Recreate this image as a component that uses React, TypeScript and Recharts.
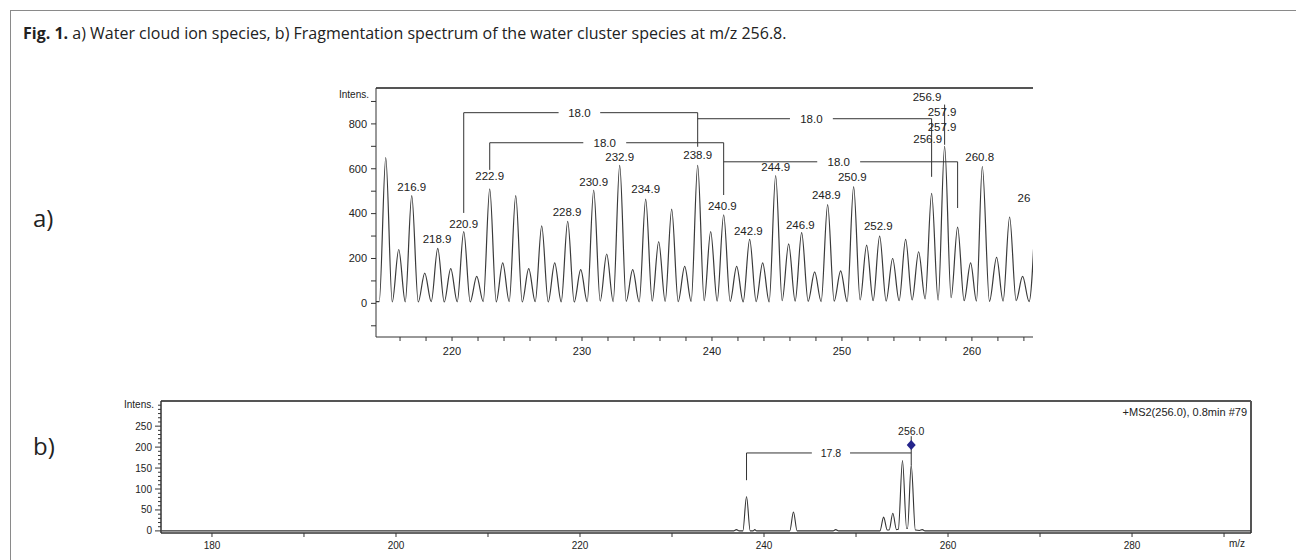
import React from 'react';
import { ComposedChart, Line, Scatter, XAxis, YAxis, ReferenceLine, ReferenceDot } from 'recharts';

// a) water cloud ion trace: local maxima [m/z, intensity]
const PEAKS_A: [number, number][] = [
  [214.9, 650], [215.9, 240], [216.9, 480], [217.9, 135], [218.9, 245], [219.9, 155],
  [220.9, 320], [221.9, 120], [222.9, 510], [223.9, 180], [224.9, 480], [225.9, 155],
  [226.9, 345], [227.9, 180], [228.9, 365], [229.9, 150], [230.9, 505], [231.9, 220],
  [232.9, 615], [233.9, 150], [234.9, 465], [235.9, 275], [236.9, 420], [237.9, 165],
  [238.9, 615], [239.9, 320], [240.9, 395], [241.9, 165], [242.9, 285], [243.9, 180],
  [244.9, 570], [245.9, 265], [246.9, 315], [247.9, 140], [248.9, 440], [249.9, 145],
  [250.9, 520], [251.9, 260], [252.9, 300], [253.9, 200], [254.9, 285], [255.9, 230],
  [256.9, 490], [257.9, 700], [258.9, 340], [259.9, 180], [260.8, 610], [261.9, 205],
  [262.9, 385], [263.9, 120], [264.9, 430],
];

// local minima between the peaks
const VALLEYS_A: [number, number][] = [
  [214.1, 8], [214.4, 8], [215.4, 6], [216.4, 7], [217.4, 6], [218.4, 8], [219.4, 6],
  [220.4, 7], [221.4, 6], [222.4, 8], [223.4, 7], [224.4, 8], [225.4, 6], [226.4, 8],
  [227.4, 6], [228.4, 7], [229.4, 6], [230.4, 8], [231.4, 10], [232.4, 8], [233.4, 9],
  [234.4, 7], [235.4, 10], [236.4, 9], [237.4, 8], [238.4, 9], [239.4, 12], [240.4, 10],
  [241.4, 9], [242.4, 7], [243.4, 8], [244.4, 7], [245.4, 12], [246.4, 10], [247.4, 9],
  [248.4, 8], [249.4, 10], [250.4, 8], [251.4, 15], [252.4, 12], [253.4, 10], [254.4, 12],
  [255.4, 15], [256.4, 20], [257.4, 14], [258.4, 25], [259.4, 12], [260.35, 10],
  [261.35, 9], [262.4, 10], [263.4, 12], [264.4, 8],
];

// peak annotations (m/z, intensity where the text sits)
const LABELS_A = [
  { text: '216.9', mz: 216.9, at: 519 },
  { text: '218.9', mz: 218.85, at: 286 },
  { text: '220.9', mz: 220.9, at: 353 },
  { text: '222.9', mz: 222.9, at: 568 },
  { text: '228.9', mz: 228.85, at: 407 },
  { text: '230.9', mz: 230.9, at: 541 },
  { text: '232.9', mz: 232.9, at: 653 },
  { text: '234.9', mz: 234.9, at: 510 },
  { text: '238.9', mz: 238.9, at: 662 },
  { text: '240.9', mz: 240.8, at: 434 },
  { text: '242.9', mz: 242.8, at: 322 },
  { text: '244.9', mz: 244.9, at: 608 },
  { text: '246.9', mz: 246.8, at: 349 },
  { text: '248.9', mz: 248.8, at: 483 },
  { text: '250.9', mz: 250.8, at: 564 },
  { text: '252.9', mz: 252.8, at: 345 },
  { text: '256.9', mz: 256.55, at: 922 },
  { text: '257.9', mz: 257.7, at: 855 },
  { text: '257.9', mz: 257.7, at: 787 },
  { text: '256.9', mz: 256.6, at: 734 },
  { text: '260.8', mz: 260.6, at: 653 },
  { text: '26', mz: 264.0, at: 470 },
];

const BRACKETS_A = [
  { text: '18.0', from: 220.9, to: 238.9, level: 850, fromEnd: 403, toEnd: 698, gap: [228.2, 231.4] },
  { text: '18.0', from: 222.9, to: 240.9, level: 716, fromEnd: 595, toEnd: 483, gap: [230.1, 233.4] },
  { text: '18.0', from: 238.9, to: 256.9, level: 823, fromEnd: 823, toEnd: 564, gap: [246.0, 249.3] },
  { text: '18.0', from: 240.9, to: 258.9, level: 631, fromEnd: 631, toEnd: 425, gap: [248.1, 251.4] },
];
const MARKERS_A = [{ mz: 257.9, top: 886, bottom: 707 }];

const X_TICKS_A = [216, 218, 220, 222, 224, 226, 228, 230, 232, 234, 236, 238, 240, 242, 244, 246, 248, 250, 252, 254, 256, 258, 260, 262, 264];
const X_LABELS_A = [220, 230, 240, 250, 260];
const Y_TICKS_A = [-100, 0, 100, 200, 300, 400, 500, 600, 700, 800, 900];
const Y_LABELS_A = [0, 200, 400, 600, 800];

// b) MS2 fragmentation trace [m/z, intensity]
const TRACE_B: [number, number][] = [
  [174.5, 0], [236.7, 0], [237.0, 3], [237.3, 0], [237.7, 0], [238.1, 82], [238.5, 0],
  [238.8, 0], [239.0, 3], [239.2, 0], [242.8, 0], [243.2, 45], [243.6, 0], [247.5, 0],
  [247.8, 3], [248.1, 0], [252.6, 0], [253.0, 33], [253.4, 2], [253.6, 2], [254.0, 42],
  [254.4, 3], [254.6, 4], [255.05, 168], [255.5, 6], [255.6, 6], [256.0, 157], [256.45, 2],
  [256.9, 1], [257.2, 3], [257.5, 0], [292.9, 0],
];
const PRECURSOR_B = { mz: 256.0, marker: 205, top: 226, bottom: 157, labelAt: 238, text: '256.0' };
const BRACKETS_B = [
  { text: '17.8', from: 238.1, to: 256.0, level: 186, fromEnd: 121, toEnd: 186, gap: [245.2, 249.35] },
];

const X_TICKS_B = [180, 190, 200, 210, 220, 230, 240, 250, 260, 270, 280, 290];
const X_LABELS_B = [180, 200, 220, 240, 260, 280];
const Y_TICKS_B = [0, 10, 20, 30, 40, 50, 60, 70, 80, 90, 100, 110, 120, 130, 140, 150, 160, 170, 180, 190, 200, 210, 220, 230, 240, 250, 260, 270, 280, 290, 300];
const Y_LABELS_B = [0, 50, 100, 150, 200, 250];

const FONT = '"Liberation Sans", Arial, sans-serif';
const INK = '#222';

const toRows = (pts: [number, number][]) =>
  [...pts].sort((a, b) => a[0] - b[0]).map(([mz, i]) => ({ mz, i }));

const TRACE_A_ROWS = toRows([...PEAKS_A, ...VALLEYS_A]);
const TRACE_B_ROWS = toRows(TRACE_B);

const bracketSegments = (b: any) => [
  [{ x: b.from, y: b.level }, { x: b.from, y: b.fromEnd }],
  [{ x: b.to, y: b.level }, { x: b.to, y: b.toEnd }],
  [{ x: b.from, y: b.level }, { x: b.gap[0], y: b.level }],
  [{ x: b.gap[1], y: b.level }, { x: b.to, y: b.level }],
];
const bracketLabels = (list: any[]) =>
  list.map((b) => ({ text: b.text, mz: (b.gap[0] + b.gap[1]) / 2, at: b.level }));

const textShape = (size: number) => (p: any) => (
  <text x={p.cx} y={p.cy} dy="0.35em" textAnchor="middle" fontSize={size} fontFamily={FONT} fill={INK}>
    {p.payload.text}
  </text>
);

const yTick = (labels: number[], major: number, minor: number, size: number) => (p: any) => {
  const v = p.payload.value;
  const lab = labels.includes(v);
  return (
    <g>
      <line x1={p.x - (lab ? major : minor)} x2={p.x} y1={p.y} y2={p.y} stroke="#333" />
      {lab && (
        <text x={p.x - 9} y={p.y} dy="0.35em" textAnchor="end" fontSize={size} fontFamily={FONT} fill={INK}>
          {v}
        </text>
      )}
    </g>
  );
};

const xTick = (labels: number[], len: number, off: number, size: number) => (p: any) => {
  const v = p.payload.value;
  const lab = labels.includes(v);
  return (
    <g>
      <line x1={p.x} x2={p.x} y1={p.y} y2={p.y + len} stroke="#333" />
      {lab && (
        <text x={p.x} y={p.y + off} dy="0.35em" textAnchor="middle" fontSize={size} fontFamily={FONT} fill={INK}>
          {v}
        </text>
      )}
    </g>
  );
};

const abs = (left: number, top: number, extra: React.CSSProperties = {}): React.CSSProperties => ({
  position: 'absolute', left, top, whiteSpace: 'nowrap', ...extra,
});

export default function App() {
  const labelsA = [...LABELS_A, ...bracketLabels(BRACKETS_A)];
  const labelsB = [{ text: PRECURSOR_B.text, mz: PRECURSOR_B.mz, at: PRECURSOR_B.labelAt }, ...bracketLabels(BRACKETS_B)];

  return (
    <div style={{ position: 'absolute', left: 0, top: 0, width: 1296, height: 560, background: '#fff', overflow: 'hidden' }}>
      <div style={abs(10, 10, { width: 1300, height: 560, borderTop: '1.5px solid #8a8a8a', borderLeft: '1.5px solid #8a8a8a' })} />
      <div style={abs(23, 22, { fontFamily: '"Open Sans", sans-serif', fontSize: 16, color: INK, lineHeight: '22px' })}>
        <b>Fig. 1.</b> a) Water cloud ion species, b) Fragmentation spectrum of the water cluster species at m/z 256.8.
      </div>
      <div style={abs(33, 202, { fontFamily: '"Open Sans", sans-serif', fontSize: 24, color: INK, lineHeight: '32px' })}>a)</div>
      <div style={abs(33, 430, { fontFamily: '"Open Sans", sans-serif', fontSize: 24, color: INK, lineHeight: '32px' })}>b)</div>

      <div style={abs(0, 0)}>
        <ComposedChart width={1296} height={380} margin={{ top: 88, right: 263, bottom: 13, left: 316 }}>
          <XAxis
            type="number" dataKey="mz" domain={[214.15, 264.7]} allowDataOverflow height={30}
            ticks={X_TICKS_A} interval={0} tickSize={0} tickMargin={0} tickLine={false}
            axisLine={{ stroke: '#333' }} tick={xTick(X_LABELS_A, 4, 14, 11)}
          />
          <YAxis
            type="number" domain={[-150, 960]} allowDataOverflow width={60}
            ticks={Y_TICKS_A} interval={0} tickSize={0} tickMargin={0} tickLine={false}
            axisLine={{ stroke: '#333' }} tick={yTick(Y_LABELS_A, 5, 5, 11)}
          />
          <ReferenceLine y={960} stroke="#555" strokeWidth={2} ifOverflow="visible" />
          <Line data={TRACE_A_ROWS} dataKey="i" type="monotone" stroke="#3a3a3a" strokeWidth={1.2} dot={false} isAnimationActive={false} />
          {BRACKETS_A.flatMap((b, bi) =>
            bracketSegments(b).map((s, si) => (
              <ReferenceLine key={`a${bi}-${si}`} segment={s} stroke="#333" strokeWidth={1} />
            ))
          )}
          {MARKERS_A.map((m, i) => (
            <ReferenceLine key={`m${i}`} segment={[{ x: m.mz, y: m.top }, { x: m.mz, y: m.bottom }]} stroke="#333" strokeWidth={1} />
          ))}
          <Scatter data={labelsA} dataKey="at" shape={textShape(11.5)} isAnimationActive={false} />
        </ComposedChart>
      </div>

      <div style={abs(0, 380)}>
        <ComposedChart width={1296} height={180} margin={{ top: 21, right: 45, bottom: 7, left: 111 }}>
          <XAxis
            type="number" dataKey="mz" domain={[174.46, 292.93]} allowDataOverflow height={20}
            ticks={X_TICKS_B} interval={0} tickSize={0} tickMargin={0} tickLine={false}
            axisLine={{ stroke: '#333', strokeWidth: 1.5 }} tick={xTick(X_LABELS_B, 4, 12, 10)}
          />
          <YAxis
            type="number" domain={[-5, 310]} allowDataOverflow width={50}
            ticks={Y_TICKS_B} interval={0} tickSize={0} tickMargin={0} tickLine={false}
            axisLine={{ stroke: '#333', strokeWidth: 1.5 }} tick={yTick(Y_LABELS_B, 6, 3, 10)}
          />
          <ReferenceLine y={310} stroke="#555" strokeWidth={2} ifOverflow="visible" />
          <ReferenceLine x={292.93} stroke="#555" strokeWidth={2} ifOverflow="visible" />
          <Line data={TRACE_B_ROWS} dataKey="i" type="monotone" stroke="#333" strokeWidth={1.1} dot={false} isAnimationActive={false} />
          {BRACKETS_B.flatMap((b, bi) =>
            bracketSegments(b).map((s, si) => (
              <ReferenceLine key={`b${bi}-${si}`} segment={s} stroke="#333" strokeWidth={1} />
            ))
          )}
          <ReferenceLine
            segment={[{ x: PRECURSOR_B.mz, y: PRECURSOR_B.top }, { x: PRECURSOR_B.mz, y: PRECURSOR_B.bottom }]}
            stroke="#333" strokeWidth={1}
          />
          <ReferenceDot
            x={PRECURSOR_B.mz} y={PRECURSOR_B.marker} r={4}
            shape={(p: any) => (
              <path d={`M${p.cx},${p.cy - 5} L${p.cx + 4.5},${p.cy} L${p.cx},${p.cy + 5} L${p.cx - 4.5},${p.cy} Z`} fill="#24248c" />
            )}
          />
          <Scatter data={labelsB} dataKey="at" shape={textShape(10.5)} isAnimationActive={false} />
        </ComposedChart>
      </div>

      <div style={abs(0, 89, { width: 369, textAlign: 'right', fontFamily: FONT, fontSize: 10, color: INK })}>Intens.</div>
      <div style={abs(0, 399, { width: 154, textAlign: 'right', fontFamily: FONT, fontSize: 10, color: INK })}>Intens.</div>
      <div style={abs(0, 406, { width: 1247, textAlign: 'right', fontFamily: FONT, fontSize: 11, color: INK })}>+MS2(256.0), 0.8min #79</div>
      <div style={abs(1222, 538, { width: 30, textAlign: 'center', fontFamily: FONT, fontSize: 10, color: INK })}>m/z</div>
    </div>
  );
}
